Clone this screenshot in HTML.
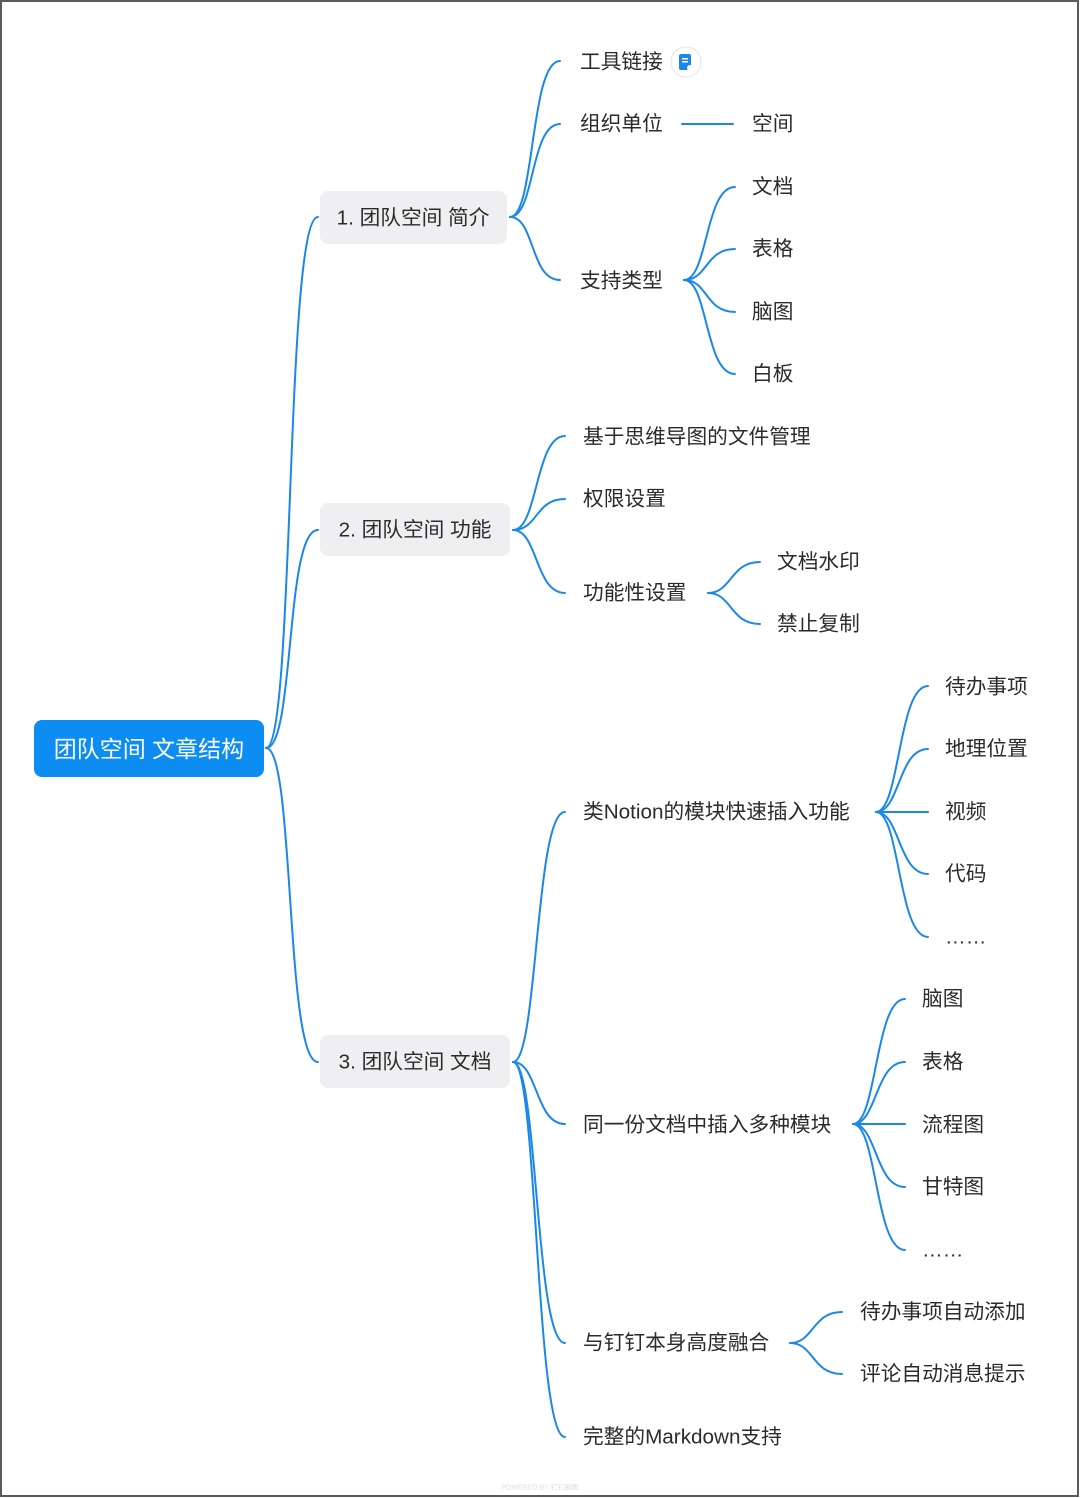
<!DOCTYPE html>
<html><head><meta charset="utf-8"><style>
html,body{margin:0;padding:0;background:#fff}
svg{display:block}
text{font-family:"Liberation Sans","Noto Sans CJK SC",sans-serif;font-size:20.7px;fill:#2b2b2b;dominant-baseline:central}
</style></head><body>
<svg width="1080" height="1498" viewBox="0 0 1080 1498" xmlns="http://www.w3.org/2000/svg">
<rect x="1" y="1" width="1077" height="1495" fill="#fff" stroke="#5a5a5a" stroke-width="2"/>
<g fill="none" stroke="#1a88e8" stroke-width="2" stroke-linecap="round">
<path d="M266 748 C295 748 285 217 318 217"/>
<path d="M266 748 C295 748 285 530 318 530"/>
<path d="M266 748 C295 748 285 1062 318 1062"/>
<path d="M510 217 C535 217 530 61 560 61"/>
<path d="M510 217 C535 217 530 124 560 124"/>
<path d="M510 217 C535 217 530 280 560 280"/>
<line x1="682" y1="124" x2="733" y2="124"/>
<path d="M684 280 C708 280 705 187 735 187"/>
<path d="M684 280 C708 280 705 249 735 249"/>
<path d="M684 280 C708 280 705 312 735 312"/>
<path d="M684 280 C708 280 705 374 735 374"/>
<path d="M513 530 C538 530 535 436 565 436"/>
<path d="M513 530 C538 530 535 499 565 499"/>
<path d="M513 530 C538 530 535 593 565 593"/>
<path d="M708 593 C732 593 730 562 760 562"/>
<path d="M708 593 C732 593 730 624 760 624"/>
<path d="M513 1062 C538 1062 535 812 565 812"/>
<path d="M513 1062 C538 1062 535 1124 565 1124"/>
<path d="M513 1062 C538 1062 535 1343 565 1343"/>
<path d="M513 1062 C538 1062 535 1437 565 1437"/>
<path d="M876 812 C900 812 898 686 928 686"/>
<path d="M876 812 C900 812 898 749 928 749"/>
<line x1="876" y1="812" x2="928" y2="812"/>
<path d="M876 812 C900 812 898 874 928 874"/>
<path d="M876 812 C900 812 898 937 928 937"/>
<path d="M853 1124 C877 1124 875 999 905 999"/>
<path d="M853 1124 C877 1124 875 1062 905 1062"/>
<line x1="853" y1="1124" x2="905" y2="1124"/>
<path d="M853 1124 C877 1124 875 1187 905 1187"/>
<path d="M853 1124 C877 1124 875 1250 905 1250"/>
<path d="M790 1343 C814 1343 812 1312 842 1312"/>
<path d="M790 1343 C814 1343 812 1374 842 1374"/>
</g>
<rect x="34" y="720" width="230" height="57" rx="8" fill="#0d8cf2"/>
<text x="149" y="749" text-anchor="middle" style="fill:#fff;font-size:23px">团队空间 文章结构</text>
<rect x="320" y="191" width="187" height="53" rx="8" fill="#efeff1"/>
<text x="413" y="218" text-anchor="middle">1. 团队空间 简介</text>
<rect x="320" y="503" width="190" height="53" rx="8" fill="#efeff1"/>
<text x="415" y="530" text-anchor="middle">2. 团队空间 功能</text>
<rect x="320" y="1035" width="190" height="53" rx="8" fill="#efeff1"/>
<text x="415" y="1062" text-anchor="middle">3. 团队空间 文档</text>
<text x="580" y="62">工具链接</text>
<circle cx="686" cy="62" r="15" fill="#fff" stroke="#e4e4e4"/>
<rect x="679" y="54" width="12" height="16" rx="2" fill="#1a88e8"/>
<rect x="682" y="58" width="6" height="1.5" fill="#fff"/>
<rect x="682" y="61" width="6" height="1.5" fill="#fff"/>
<circle cx="690" cy="68" r="3" fill="#fff"/>
<text x="580" y="124">组织单位</text>
<text x="752" y="124">空间</text>
<text x="580" y="281">支持类型</text>
<text x="752" y="187">文档</text>
<text x="752" y="249">表格</text>
<text x="752" y="312">脑图</text>
<text x="752" y="374">白板</text>
<text x="583" y="437">基于思维导图的文件管理</text>
<text x="583" y="499">权限设置</text>
<text x="583" y="593">功能性设置</text>
<text x="777" y="562">文档水印</text>
<text x="777" y="624">禁止复制</text>
<text x="583" y="812">类Notion的模块快速插入功能</text>
<text x="945" y="687">待办事项</text>
<text x="945" y="749">地理位置</text>
<text x="945" y="812">视频</text>
<text x="945" y="874">代码</text>
<text x="945" y="937">……</text>
<text x="583" y="1125">同一份文档中插入多种模块</text>
<text x="922" y="999">脑图</text>
<text x="922" y="1062">表格</text>
<text x="922" y="1125">流程图</text>
<text x="922" y="1187">甘特图</text>
<text x="922" y="1250">……</text>
<text x="583" y="1343">与钉钉本身高度融合</text>
<text x="860" y="1312">待办事项自动添加</text>
<text x="860" y="1374">评论自动消息提示</text>
<text x="583" y="1437">完整的Markdown支持</text>
<text x="540" y="1488" text-anchor="middle" style="font-size:7px;fill:#ddd">POWERED BY 钉钉脑图</text>
</svg>
</body></html>
